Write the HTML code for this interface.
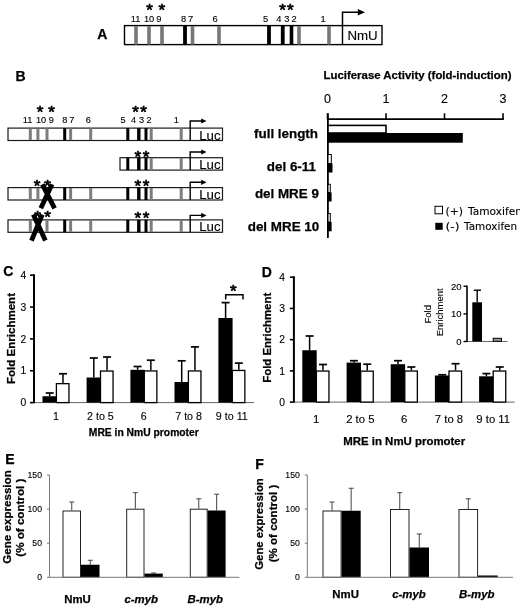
<!DOCTYPE html>
<html><head><meta charset="utf-8"><title>Figure</title>
<style>html,body{margin:0;padding:0;background:#fff}svg{display:block}text{font-family:"Liberation Sans",Arial,sans-serif;fill:#000}.b{font-weight:bold;stroke:#000;stroke-width:.25px}.v{font-family:"DejaVu Sans",Verdana,sans-serif;stroke:#000;stroke-width:.12px}.st{stroke:#000;stroke-width:.7px}.n{stroke:#000;stroke-width:.12px}</style></head><body>
<svg width="520" height="611" viewBox="0 0 520 611">
<rect width="520" height="611" fill="#fff"/>
<g id="panelA">
<text x="97.2" y="39.4" font-size="14" class="b">A</text>
<rect x="124.5" y="25.6" width="257.5" height="19" fill="#fff" stroke="#000" stroke-width="1.4"/>
<rect x="134.2" y="26" width="3.6" height="18.5" fill="#777"/>
<rect x="147.2" y="26" width="3.6" height="18.5" fill="#777"/>
<rect x="160.2" y="26" width="3.6" height="18.5" fill="#777"/>
<rect x="190.7" y="26" width="3.6" height="18.5" fill="#777"/>
<rect x="217.2" y="26" width="3.6" height="18.5" fill="#777"/>
<rect x="297.2" y="26" width="3.6" height="18.5" fill="#777"/>
<rect x="327.2" y="26" width="3.6" height="18.5" fill="#777"/>
<rect x="183.1" y="26" width="3.8" height="18.5" fill="#000"/>
<rect x="267.1" y="26" width="3.8" height="18.5" fill="#000"/>
<rect x="280.85" y="26" width="3.8" height="18.5" fill="#000"/>
<rect x="289.7" y="26" width="3.6" height="18.5" fill="#000"/>
<line x1="342.5" y1="25.5" x2="342.5" y2="45" stroke="#000" stroke-width="1.4"/>
<text x="347.4" y="40" font-size="13.3" class="n">NmU</text>
<path d="M342.5 25.5V12.3H359" fill="none" stroke="#000" stroke-width="1.5"/>
<path d="M357.8 9.1L365 12.3L357.8 15.5Z" fill="#000"/>
<text x="135.6" y="22.3" font-size="9.3" class="n" text-anchor="middle">11</text>
<text x="149.1" y="22.3" font-size="9.3" class="n" text-anchor="middle">10</text>
<text x="158.8" y="22.3" font-size="9.3" class="n" text-anchor="middle">9</text>
<text x="183.7" y="22.3" font-size="9.3" class="n" text-anchor="middle">8</text>
<text x="190.6" y="22.3" font-size="9.3" class="n" text-anchor="middle">7</text>
<text x="215.2" y="22.3" font-size="9.3" class="n" text-anchor="middle">6</text>
<text x="265.5" y="22.3" font-size="9.3" class="n" text-anchor="middle">5</text>
<text x="278.75" y="22.3" font-size="9.3" class="n" text-anchor="middle">4</text>
<text x="286.75" y="22.3" font-size="9.3" class="n" text-anchor="middle">3</text>
<text x="294" y="22.3" font-size="9.3" class="n" text-anchor="middle">2</text>
<text x="323" y="22.3" font-size="9.3" class="n" text-anchor="middle">1</text>
<text x="149.5" y="15.6" font-size="17" class="st" text-anchor="middle">*</text>
<text x="161.7" y="15.6" font-size="17" class="st" text-anchor="middle">*</text>
<text x="282.5" y="15.6" font-size="17" class="st" text-anchor="middle">*</text>
<text x="290.3" y="15.6" font-size="17" class="st" text-anchor="middle">*</text>
</g>
<g id="panelB">
<text x="15.5" y="81.2" font-size="14" class="b">B</text>
<rect x="8" y="128.1" width="214.5" height="12.4" fill="#fff" stroke="#1a1a1a" stroke-width="1.2"/>
<rect x="28.8" y="128.5" width="3" height="11.6" fill="#7e7e7e"/>
<rect x="36.4" y="128.5" width="3" height="11.6" fill="#7e7e7e"/>
<rect x="45.5" y="128.5" width="3" height="11.6" fill="#7e7e7e"/>
<rect x="69.1" y="128.5" width="3" height="11.6" fill="#7e7e7e"/>
<rect x="89.2" y="128.5" width="3" height="11.6" fill="#7e7e7e"/>
<rect x="63.2" y="128.1" width="3" height="12.4" fill="#000"/>
<rect x="126.3" y="128.1" width="3" height="12.4" fill="#000"/>
<rect x="137.1" y="128.1" width="3.4" height="12.4" fill="#000"/>
<rect x="144.5" y="128.1" width="3" height="12.4" fill="#000"/>
<rect x="149.7" y="128.5" width="3" height="11.6" fill="#7e7e7e"/>
<rect x="179.7" y="128.5" width="3" height="11.6" fill="#7e7e7e"/>
<path d="M190.2 140.5V121H203" fill="none" stroke="#000" stroke-width="1.4"/>
<path d="M201.2 118.4L206.6 121L201.2 123.6Z" fill="#000"/>
<text x="199.2" y="139.5" font-size="13" class="n" textLength="21.3" lengthAdjust="spacingAndGlyphs">Luc</text>
<rect x="120" y="157.7" width="102.5" height="12.4" fill="#fff" stroke="#1a1a1a" stroke-width="1.2"/>
<rect x="126.3" y="157.7" width="3" height="12.4" fill="#000"/>
<rect x="137.1" y="157.7" width="3.4" height="12.4" fill="#000"/>
<rect x="144.5" y="157.7" width="3" height="12.4" fill="#000"/>
<rect x="149.7" y="158.1" width="3" height="11.6" fill="#7e7e7e"/>
<rect x="179.7" y="158.1" width="3" height="11.6" fill="#7e7e7e"/>
<path d="M190.2 170.1V152H203" fill="none" stroke="#000" stroke-width="1.4"/>
<path d="M201.2 149.4L206.6 152L201.2 154.6Z" fill="#000"/>
<text x="199.2" y="169.1" font-size="13" class="n" textLength="21.3" lengthAdjust="spacingAndGlyphs">Luc</text>
<rect x="8" y="187.6" width="214.5" height="12.4" fill="#fff" stroke="#1a1a1a" stroke-width="1.2"/>
<rect x="28.8" y="188" width="3" height="11.6" fill="#7e7e7e"/>
<rect x="36.4" y="188" width="3" height="11.6" fill="#7e7e7e"/>
<rect x="45.5" y="188" width="3" height="11.6" fill="#7e7e7e"/>
<rect x="69.1" y="188" width="3" height="11.6" fill="#7e7e7e"/>
<rect x="89.2" y="188" width="3" height="11.6" fill="#7e7e7e"/>
<rect x="63.2" y="187.6" width="3" height="12.4" fill="#000"/>
<rect x="126.3" y="187.6" width="3" height="12.4" fill="#000"/>
<rect x="137.1" y="187.6" width="3.4" height="12.4" fill="#000"/>
<rect x="144.5" y="187.6" width="3" height="12.4" fill="#000"/>
<rect x="149.7" y="188" width="3" height="11.6" fill="#7e7e7e"/>
<rect x="179.7" y="188" width="3" height="11.6" fill="#7e7e7e"/>
<path d="M190.2 200V182.3H203" fill="none" stroke="#000" stroke-width="1.4"/>
<path d="M201.2 179.7L206.6 182.3L201.2 184.9Z" fill="#000"/>
<text x="199.2" y="199" font-size="13" class="n" textLength="21.3" lengthAdjust="spacingAndGlyphs">Luc</text>
<rect x="8" y="219.9" width="214.5" height="12.4" fill="#fff" stroke="#1a1a1a" stroke-width="1.2"/>
<rect x="28.8" y="220.3" width="3" height="11.6" fill="#7e7e7e"/>
<rect x="36.4" y="220.3" width="3" height="11.6" fill="#7e7e7e"/>
<rect x="45.5" y="220.3" width="3" height="11.6" fill="#7e7e7e"/>
<rect x="69.1" y="220.3" width="3" height="11.6" fill="#7e7e7e"/>
<rect x="89.2" y="220.3" width="3" height="11.6" fill="#7e7e7e"/>
<rect x="63.2" y="219.9" width="3" height="12.4" fill="#000"/>
<rect x="126.3" y="219.9" width="3" height="12.4" fill="#000"/>
<rect x="137.1" y="219.9" width="3.4" height="12.4" fill="#000"/>
<rect x="144.5" y="219.9" width="3" height="12.4" fill="#000"/>
<rect x="149.7" y="220.3" width="3" height="11.6" fill="#7e7e7e"/>
<rect x="179.7" y="220.3" width="3" height="11.6" fill="#7e7e7e"/>
<path d="M190.2 232.3V215.4H203" fill="none" stroke="#000" stroke-width="1.4"/>
<path d="M201.2 212.8L206.6 215.4L201.2 218Z" fill="#000"/>
<text x="199.2" y="231.3" font-size="13" class="n" textLength="21.3" lengthAdjust="spacingAndGlyphs">Luc</text>
<text x="27.6" y="123.2" font-size="9.2" class="n" text-anchor="middle">11</text>
<text x="41" y="123.2" font-size="9.2" class="n" text-anchor="middle">10</text>
<text x="51.3" y="123.2" font-size="9.2" class="n" text-anchor="middle">9</text>
<text x="64.7" y="123.2" font-size="9.2" class="n" text-anchor="middle">8</text>
<text x="71.7" y="123.2" font-size="9.2" class="n" text-anchor="middle">7</text>
<text x="88.3" y="123.2" font-size="9.2" class="n" text-anchor="middle">6</text>
<text x="123" y="123.2" font-size="9.2" class="n" text-anchor="middle">5</text>
<text x="133.6" y="123.2" font-size="9.2" class="n" text-anchor="middle">4</text>
<text x="141.6" y="123.2" font-size="9.2" class="n" text-anchor="middle">3</text>
<text x="149" y="123.2" font-size="9.2" class="n" text-anchor="middle">2</text>
<text x="176.4" y="123.2" font-size="9.2" class="n" text-anchor="middle">1</text>
<text x="40" y="118.3" font-size="17" class="st" text-anchor="middle">*</text>
<text x="51.5" y="118.3" font-size="17" class="st" text-anchor="middle">*</text>
<text x="135.6" y="117.7" font-size="17" class="st" text-anchor="middle">*</text>
<text x="143.6" y="117.7" font-size="17" class="st" text-anchor="middle">*</text>
<text x="137.8" y="162.8" font-size="17" class="st" text-anchor="middle">*</text>
<text x="146" y="162.8" font-size="17" class="st" text-anchor="middle">*</text>
<text x="37" y="191.8" font-size="17" class="st" text-anchor="middle">*</text>
<text x="47.5" y="191.8" font-size="17" class="st" text-anchor="middle">*</text>
<text x="137.8" y="192.4" font-size="17" class="st" text-anchor="middle">*</text>
<text x="146" y="192.4" font-size="17" class="st" text-anchor="middle">*</text>
<text x="37.5" y="223.2" font-size="17" class="st" text-anchor="middle">*</text>
<text x="47.5" y="223.2" font-size="17" class="st" text-anchor="middle">*</text>
<text x="137.8" y="223.6" font-size="17" class="st" text-anchor="middle">*</text>
<text x="146" y="223.6" font-size="17" class="st" text-anchor="middle">*</text>
<path d="M42.3 184.3L54.6 208.3M52 184.3L40.8 208.3" stroke="#000" stroke-width="4.8" fill="none"/>
<path d="M33.3 214.5L45.4 240.6M42.2 214.5L31.5 240.6" stroke="#000" stroke-width="4.8" fill="none"/>
<text x="417.5" y="79" font-size="11.4" class="b" text-anchor="middle" textLength="188" lengthAdjust="spacingAndGlyphs">Luciferase Activity (fold-induction)</text>
<text x="327.5" y="103.3" font-size="12.5" class="n" text-anchor="middle">0</text>
<line x1="327.5" y1="113.3" x2="327.5" y2="119.3" stroke="#000" stroke-width="1.6"/>
<text x="386" y="103.3" font-size="12.5" class="n" text-anchor="middle">1</text>
<line x1="386" y1="113.3" x2="386" y2="119.3" stroke="#000" stroke-width="1.6"/>
<text x="444.5" y="103.3" font-size="12.5" class="n" text-anchor="middle">2</text>
<line x1="444.5" y1="113.3" x2="444.5" y2="119.3" stroke="#000" stroke-width="1.6"/>
<text x="503" y="103.3" font-size="12.5" class="n" text-anchor="middle">3</text>
<line x1="503" y1="113.3" x2="503" y2="119.3" stroke="#000" stroke-width="1.6"/>
<line x1="327" y1="119.2" x2="503.8" y2="119.2" stroke="#000" stroke-width="1.7"/>
<line x1="327.9" y1="113.3" x2="327.9" y2="238" stroke="#000" stroke-width="1.8"/>
<rect x="328" y="125.4" width="58" height="7.6" fill="#fff" stroke="#000" stroke-width="1.6"/>
<rect x="328" y="133" width="134.8" height="9.7" fill="#000"/>
<rect x="328" y="154.5" width="3.3" height="9" fill="#fff" stroke="#000" stroke-width="1"/>
<rect x="328" y="163.5" width="4.5" height="9" fill="#000"/>
<rect x="328" y="184.3" width="2.3" height="8.2" fill="#fff" stroke="#000" stroke-width="1"/>
<rect x="328" y="192.5" width="3.6" height="9" fill="#000"/>
<rect x="328" y="213.5" width="2.3" height="8.5" fill="#fff" stroke="#000" stroke-width="1"/>
<rect x="328" y="222" width="3.6" height="9.3" fill="#000"/>
<text x="318" y="138.2" font-size="13.4" class="b" text-anchor="end">full length</text>
<text x="316" y="170.5" font-size="13.4" class="b" text-anchor="end">del 6-11</text>
<text x="318.9" y="198.2" font-size="13.4" class="b" text-anchor="end">del MRE 9</text>
<text x="319.2" y="230.5" font-size="13.4" class="b" text-anchor="end">del MRE 10</text>
<rect x="435" y="206.3" width="7.5" height="7.5" fill="#fff" stroke="#000" stroke-width="1"/>
<rect x="435.3" y="222.8" width="7.4" height="7" fill="#000"/>
<text x="445.5" y="215" font-size="10.7" class="v" textLength="17.6" lengthAdjust="spacingAndGlyphs">(+)</text>
<text x="468" y="215" font-size="10.7" class="v" textLength="54" lengthAdjust="spacingAndGlyphs">Tamoxifen</text>
<text x="445.5" y="229.7" font-size="10.7" class="v" textLength="14" lengthAdjust="spacingAndGlyphs">(-)</text>
<text x="464.1" y="229.7" font-size="10.7" class="v" textLength="53" lengthAdjust="spacingAndGlyphs">Tamoxifen</text>
</g>
<g id="panelC">
<text x="3.3" y="275.8" font-size="14" class="b">C</text>
<line x1="34" y1="402.6" x2="254" y2="402.6" stroke="#666" stroke-width="1"/>
<line x1="49.7" y1="396.25" x2="49.7" y2="393" stroke="#000" stroke-width="1.5"/>
<line x1="45.7" y1="393" x2="53.7" y2="393" stroke="#000" stroke-width="1.7"/>
<rect x="42.5" y="396.25" width="14.2" height="6.35" fill="#000"/>
<line x1="62.95" y1="383" x2="62.95" y2="373.75" stroke="#000" stroke-width="1.5"/>
<line x1="58.95" y1="373.75" x2="66.95" y2="373.75" stroke="#000" stroke-width="1.7"/>
<rect x="56.4" y="383.65" width="12.55" height="18.95" fill="#fff" stroke="#000" stroke-width="1.3"/>
<line x1="93.8" y1="377.5" x2="93.8" y2="358" stroke="#000" stroke-width="1.5"/>
<line x1="89.8" y1="358" x2="97.8" y2="358" stroke="#000" stroke-width="1.7"/>
<rect x="86.6" y="377.5" width="14.2" height="25.1" fill="#000"/>
<line x1="107.05" y1="370.4" x2="107.05" y2="357" stroke="#000" stroke-width="1.5"/>
<line x1="103.05" y1="357" x2="111.05" y2="357" stroke="#000" stroke-width="1.7"/>
<rect x="100.5" y="371.05" width="12.55" height="31.55" fill="#fff" stroke="#000" stroke-width="1.3"/>
<line x1="137.6" y1="369.8" x2="137.6" y2="366.5" stroke="#000" stroke-width="1.5"/>
<line x1="133.6" y1="366.5" x2="141.6" y2="366.5" stroke="#000" stroke-width="1.7"/>
<rect x="130.4" y="369.8" width="14.2" height="32.8" fill="#000"/>
<line x1="150.85" y1="370.3" x2="150.85" y2="360.2" stroke="#000" stroke-width="1.5"/>
<line x1="146.85" y1="360.2" x2="154.85" y2="360.2" stroke="#000" stroke-width="1.7"/>
<rect x="144.3" y="370.95" width="12.55" height="31.65" fill="#fff" stroke="#000" stroke-width="1.3"/>
<line x1="181.7" y1="382" x2="181.7" y2="360.8" stroke="#000" stroke-width="1.5"/>
<line x1="177.7" y1="360.8" x2="185.7" y2="360.8" stroke="#000" stroke-width="1.7"/>
<rect x="174.5" y="382" width="14.2" height="20.6" fill="#000"/>
<line x1="194.95" y1="370.3" x2="194.95" y2="346.9" stroke="#000" stroke-width="1.5"/>
<line x1="190.95" y1="346.9" x2="198.95" y2="346.9" stroke="#000" stroke-width="1.7"/>
<rect x="188.4" y="370.95" width="12.55" height="31.65" fill="#fff" stroke="#000" stroke-width="1.3"/>
<line x1="225.6" y1="318" x2="225.6" y2="302.6" stroke="#000" stroke-width="1.5"/>
<line x1="221.6" y1="302.6" x2="229.6" y2="302.6" stroke="#000" stroke-width="1.7"/>
<rect x="218.4" y="318" width="14.2" height="84.6" fill="#000"/>
<line x1="238.85" y1="369.8" x2="238.85" y2="363.1" stroke="#000" stroke-width="1.5"/>
<line x1="234.85" y1="363.1" x2="242.85" y2="363.1" stroke="#000" stroke-width="1.7"/>
<rect x="232.3" y="370.45" width="12.55" height="32.15" fill="#fff" stroke="#000" stroke-width="1.3"/>
<line x1="34" y1="274.3" x2="34" y2="403.2" stroke="#000" stroke-width="2"/>
<line x1="30" y1="402.6" x2="34" y2="402.6" stroke="#000" stroke-width="1.6"/>
<text x="26.2" y="406.3" font-size="10.3" class="n" text-anchor="end">0</text>
<line x1="30" y1="370.75" x2="34" y2="370.75" stroke="#000" stroke-width="1.6"/>
<text x="26.2" y="374.45" font-size="10.3" class="n" text-anchor="end">1</text>
<line x1="30" y1="338.9" x2="34" y2="338.9" stroke="#000" stroke-width="1.6"/>
<text x="26.2" y="342.6" font-size="10.3" class="n" text-anchor="end">2</text>
<line x1="30" y1="307.05" x2="34" y2="307.05" stroke="#000" stroke-width="1.6"/>
<text x="26.2" y="310.75" font-size="10.3" class="n" text-anchor="end">3</text>
<line x1="30" y1="275.2" x2="34" y2="275.2" stroke="#000" stroke-width="1.6"/>
<text x="26.2" y="278.9" font-size="10.3" class="n" text-anchor="end">4</text>
<text x="56" y="420.3" font-size="10.7" class="n" text-anchor="middle">1</text>
<text x="100.4" y="420.3" font-size="10.7" class="n" text-anchor="middle">2 to 5</text>
<text x="143.7" y="420.3" font-size="10.7" class="n" text-anchor="middle">6</text>
<text x="188.6" y="420.3" font-size="10.7" class="n" text-anchor="middle">7 to 8</text>
<text x="231.8" y="420.3" font-size="10.7" class="n" text-anchor="middle">9 to 11</text>
<text x="143.8" y="435.6" font-size="10.5" class="b" text-anchor="middle" textLength="110" lengthAdjust="spacingAndGlyphs">MRE in NmU promoter</text>
<text transform="translate(14.5,338.5) rotate(-90)" font-size="11" class="b" text-anchor="middle" textLength="91" lengthAdjust="spacingAndGlyphs">Fold Enrichment</text>
</g>
<path d="M225.7 299.5V294.7H243V299.5" fill="none" stroke="#000" stroke-width="1.5"/>
<text x="233.4" y="297" font-size="17" class="st" text-anchor="middle">*</text>
<g id="panelD">
<text x="261.7" y="276.5" font-size="14" class="b">D</text>
<line x1="293.9" y1="402.1" x2="514.6" y2="402.1" stroke="#666" stroke-width="1"/>
<line x1="309.6" y1="350.25" x2="309.6" y2="336" stroke="#000" stroke-width="1.5"/>
<line x1="305.6" y1="336" x2="313.6" y2="336" stroke="#000" stroke-width="1.7"/>
<rect x="302.3" y="350.25" width="14.4" height="51.85" fill="#000"/>
<line x1="322.95" y1="370.4" x2="322.95" y2="364.5" stroke="#000" stroke-width="1.5"/>
<line x1="318.95" y1="364.5" x2="326.95" y2="364.5" stroke="#000" stroke-width="1.7"/>
<rect x="316.4" y="371.05" width="12.55" height="31.05" fill="#fff" stroke="#000" stroke-width="1.3"/>
<line x1="353.9" y1="362.6" x2="353.9" y2="360.7" stroke="#000" stroke-width="1.5"/>
<line x1="349.9" y1="360.7" x2="357.9" y2="360.7" stroke="#000" stroke-width="1.7"/>
<rect x="346.6" y="362.6" width="14.4" height="39.5" fill="#000"/>
<line x1="367.25" y1="370.5" x2="367.25" y2="364.2" stroke="#000" stroke-width="1.5"/>
<line x1="363.25" y1="364.2" x2="371.25" y2="364.2" stroke="#000" stroke-width="1.7"/>
<rect x="360.7" y="371.15" width="12.55" height="30.95" fill="#fff" stroke="#000" stroke-width="1.3"/>
<line x1="398" y1="364.2" x2="398" y2="360.7" stroke="#000" stroke-width="1.5"/>
<line x1="394" y1="360.7" x2="402" y2="360.7" stroke="#000" stroke-width="1.7"/>
<rect x="390.7" y="364.2" width="14.4" height="37.9" fill="#000"/>
<line x1="411.35" y1="370.4" x2="411.35" y2="367" stroke="#000" stroke-width="1.5"/>
<line x1="407.35" y1="367" x2="415.35" y2="367" stroke="#000" stroke-width="1.7"/>
<rect x="404.8" y="371.05" width="12.55" height="31.05" fill="#fff" stroke="#000" stroke-width="1.3"/>
<line x1="442.2" y1="375.5" x2="442.2" y2="374.8" stroke="#000" stroke-width="1.5"/>
<line x1="438.2" y1="374.8" x2="446.2" y2="374.8" stroke="#000" stroke-width="1.7"/>
<rect x="434.9" y="375.5" width="14.4" height="26.6" fill="#000"/>
<line x1="455.55" y1="370.4" x2="455.55" y2="363.7" stroke="#000" stroke-width="1.5"/>
<line x1="451.55" y1="363.7" x2="459.55" y2="363.7" stroke="#000" stroke-width="1.7"/>
<rect x="449" y="371.05" width="12.55" height="31.05" fill="#fff" stroke="#000" stroke-width="1.3"/>
<line x1="486.4" y1="376.3" x2="486.4" y2="373.6" stroke="#000" stroke-width="1.5"/>
<line x1="482.4" y1="373.6" x2="490.4" y2="373.6" stroke="#000" stroke-width="1.7"/>
<rect x="479.1" y="376.3" width="14.4" height="25.8" fill="#000"/>
<line x1="499.75" y1="370.4" x2="499.75" y2="367" stroke="#000" stroke-width="1.5"/>
<line x1="495.75" y1="367" x2="503.75" y2="367" stroke="#000" stroke-width="1.7"/>
<rect x="493.2" y="371.05" width="12.55" height="31.05" fill="#fff" stroke="#000" stroke-width="1.3"/>
<line x1="293.9" y1="276.3" x2="293.9" y2="402.7" stroke="#000" stroke-width="2"/>
<line x1="289.9" y1="402.1" x2="293.9" y2="402.1" stroke="#000" stroke-width="1.6"/>
<text x="285.1" y="405.8" font-size="10.3" class="n" text-anchor="end">0</text>
<line x1="289.9" y1="370.88" x2="293.9" y2="370.88" stroke="#000" stroke-width="1.6"/>
<text x="285.1" y="374.57" font-size="10.3" class="n" text-anchor="end">1</text>
<line x1="289.9" y1="339.65" x2="293.9" y2="339.65" stroke="#000" stroke-width="1.6"/>
<text x="285.1" y="343.35" font-size="10.3" class="n" text-anchor="end">2</text>
<line x1="289.9" y1="308.43" x2="293.9" y2="308.43" stroke="#000" stroke-width="1.6"/>
<text x="285.1" y="312.12" font-size="10.3" class="n" text-anchor="end">3</text>
<line x1="289.9" y1="277.2" x2="293.9" y2="277.2" stroke="#000" stroke-width="1.6"/>
<text x="285.1" y="280.9" font-size="10.3" class="n" text-anchor="end">4</text>
<text x="316.25" y="422.6" font-size="11.3" class="n" text-anchor="middle">1</text>
<text x="360.3" y="422.6" font-size="11.3" class="n" text-anchor="middle">2 to 5</text>
<text x="404.2" y="422.6" font-size="11.3" class="n" text-anchor="middle">6</text>
<text x="449" y="422.6" font-size="11.3" class="n" text-anchor="middle">7 to 8</text>
<text x="493.2" y="422.6" font-size="11.3" class="n" text-anchor="middle">9 to 11</text>
<text x="404.2" y="445" font-size="11.5" class="b" text-anchor="middle" textLength="122" lengthAdjust="spacingAndGlyphs">MRE in NmU promoter</text>
<text transform="translate(271.4,337.8) rotate(-90)" font-size="11" class="b" text-anchor="middle" textLength="90" lengthAdjust="spacingAndGlyphs">Fold Enrichment</text>
</g>
<g id="inset">
<line x1="467" y1="341.5" x2="507.5" y2="341.5" stroke="#666" stroke-width="1"/>
<line x1="477.2" y1="302.3" x2="477.2" y2="290.2" stroke="#000" stroke-width="1.4"/>
<line x1="473.8" y1="290.2" x2="481" y2="290.2" stroke="#000" stroke-width="1.4"/>
<rect x="472.3" y="302.3" width="9.7" height="39.2" fill="#000"/>
<rect x="493.2" y="338.3" width="8.3" height="3" fill="#999" stroke="#000" stroke-width="1"/>
<line x1="467" y1="285.6" x2="467" y2="342" stroke="#000" stroke-width="1.6"/>
<line x1="463.5" y1="286.3" x2="467" y2="286.3" stroke="#000" stroke-width="1.4"/>
<text x="461.5" y="289.7" font-size="9.5" class="n" text-anchor="end">20</text>
<line x1="463.5" y1="313.9" x2="467" y2="313.9" stroke="#000" stroke-width="1.4"/>
<text x="461.5" y="317.3" font-size="9.5" class="n" text-anchor="end">10</text>
<line x1="463.5" y1="341.5" x2="467" y2="341.5" stroke="#000" stroke-width="1.4"/>
<text x="461.5" y="344.9" font-size="9.5" class="n" text-anchor="end">0</text>
<text transform="translate(431.2,314.3) rotate(-90)" font-size="9.5" class="n" text-anchor="middle">Fold</text>
<text transform="translate(443.2,312.3) rotate(-90)" font-size="9.5" class="n" text-anchor="middle">Enrichment</text>
</g>
<g id="panelE">
<text x="5.3" y="464.2" font-size="14" class="b">E</text>
<line x1="71.75" y1="510.5" x2="71.75" y2="502" stroke="#444" stroke-width="1"/>
<line x1="69.25" y1="502" x2="74.25" y2="502" stroke="#444" stroke-width="1"/>
<rect x="63" y="511" width="17.5" height="66.3" fill="#fff" stroke="#222" stroke-width="1"/>
<line x1="90.25" y1="564.75" x2="90.25" y2="560.25" stroke="#444" stroke-width="1"/>
<line x1="87.75" y1="560.25" x2="92.75" y2="560.25" stroke="#444" stroke-width="1"/>
<rect x="81" y="564.75" width="18.5" height="12.55" fill="#000"/>
<line x1="135.35" y1="508.7" x2="135.35" y2="492.7" stroke="#444" stroke-width="1"/>
<line x1="132.85" y1="492.7" x2="137.85" y2="492.7" stroke="#444" stroke-width="1"/>
<rect x="126.7" y="509.2" width="17.3" height="68.1" fill="#fff" stroke="#222" stroke-width="1"/>
<line x1="153.65" y1="573.6" x2="153.65" y2="573" stroke="#444" stroke-width="1"/>
<line x1="151.15" y1="573" x2="156.15" y2="573" stroke="#444" stroke-width="1"/>
<rect x="144.5" y="573.6" width="18.3" height="3.7" fill="#000"/>
<line x1="198.75" y1="508.7" x2="198.75" y2="498.8" stroke="#444" stroke-width="1"/>
<line x1="196.25" y1="498.8" x2="201.25" y2="498.8" stroke="#444" stroke-width="1"/>
<rect x="190.3" y="509.2" width="16.9" height="68.1" fill="#fff" stroke="#222" stroke-width="1"/>
<line x1="216.65" y1="510.5" x2="216.65" y2="494.2" stroke="#444" stroke-width="1"/>
<line x1="214.15" y1="494.2" x2="219.15" y2="494.2" stroke="#444" stroke-width="1"/>
<rect x="207.7" y="510.5" width="17.9" height="66.8" fill="#000"/>
<line x1="49.5" y1="577.3" x2="239.4" y2="577.3" stroke="#777" stroke-width="1"/>
<line x1="49.5" y1="475" x2="49.5" y2="577.3" stroke="#777" stroke-width="1"/>
<line x1="47" y1="577.3" x2="49.5" y2="577.3" stroke="#777" stroke-width="1"/>
<text x="42" y="580.1" font-size="8.7" class="n" text-anchor="end">0</text>
<line x1="47" y1="543.2" x2="49.5" y2="543.2" stroke="#777" stroke-width="1"/>
<text x="42" y="546" font-size="8.7" class="n" text-anchor="end">50</text>
<line x1="47" y1="509.1" x2="49.5" y2="509.1" stroke="#777" stroke-width="1"/>
<text x="42" y="511.9" font-size="8.7" class="n" text-anchor="end">100</text>
<line x1="47" y1="475" x2="49.5" y2="475" stroke="#777" stroke-width="1"/>
<text x="42" y="477.8" font-size="8.7" class="n" text-anchor="end">150</text>
<text x="77.5" y="602.8" font-size="11.4" class="b" text-anchor="middle">NmU</text>
<text x="141.2" y="602.8" font-size="11.4" class="b" text-anchor="middle" font-style="italic">c-myb</text>
<text x="205.3" y="602.8" font-size="11.4" class="b" text-anchor="middle" font-style="italic">B-myb</text>
<text transform="translate(10.5,517) rotate(-90)" font-size="10.8" class="b" text-anchor="middle" textLength="93.5" lengthAdjust="spacingAndGlyphs">Gene expression</text>
<text transform="translate(24.1,517.7) rotate(-90)" font-size="10.8" class="b" text-anchor="middle" textLength="78" lengthAdjust="spacingAndGlyphs">(% of control )</text>
</g>
<g id="panelF">
<text x="255.3" y="469" font-size="14" class="b">F</text>
<line x1="332.05" y1="510.5" x2="332.05" y2="502" stroke="#444" stroke-width="1"/>
<line x1="329.55" y1="502" x2="334.55" y2="502" stroke="#444" stroke-width="1"/>
<rect x="323" y="511" width="18.1" height="66.3" fill="#fff" stroke="#222" stroke-width="1"/>
<line x1="351.15" y1="510.75" x2="351.15" y2="488.25" stroke="#444" stroke-width="1"/>
<line x1="348.65" y1="488.25" x2="353.65" y2="488.25" stroke="#444" stroke-width="1"/>
<rect x="341.6" y="510.75" width="19.1" height="66.55" fill="#000"/>
<line x1="399.75" y1="509" x2="399.75" y2="492.7" stroke="#444" stroke-width="1"/>
<line x1="397.25" y1="492.7" x2="402.25" y2="492.7" stroke="#444" stroke-width="1"/>
<rect x="390.5" y="509.5" width="18.5" height="67.8" fill="#fff" stroke="#222" stroke-width="1"/>
<line x1="419.25" y1="547.5" x2="419.25" y2="534" stroke="#444" stroke-width="1"/>
<line x1="416.75" y1="534" x2="421.75" y2="534" stroke="#444" stroke-width="1"/>
<rect x="409.5" y="547.5" width="19.5" height="29.8" fill="#000"/>
<line x1="468.3" y1="509" x2="468.3" y2="498.8" stroke="#444" stroke-width="1"/>
<line x1="465.8" y1="498.8" x2="470.8" y2="498.8" stroke="#444" stroke-width="1"/>
<rect x="459" y="509.5" width="18.6" height="67.8" fill="#fff" stroke="#222" stroke-width="1"/>
<rect x="478.1" y="575.5" width="19.6" height="1.8" fill="#000"/>
<line x1="307.3" y1="577.3" x2="513" y2="577.3" stroke="#777" stroke-width="1"/>
<line x1="307.3" y1="475" x2="307.3" y2="577.3" stroke="#777" stroke-width="1"/>
<line x1="304.8" y1="577.3" x2="307.3" y2="577.3" stroke="#777" stroke-width="1"/>
<text x="299.8" y="580.1" font-size="8.7" class="n" text-anchor="end">0</text>
<line x1="304.8" y1="543.2" x2="307.3" y2="543.2" stroke="#777" stroke-width="1"/>
<text x="299.8" y="546" font-size="8.7" class="n" text-anchor="end">50</text>
<line x1="304.8" y1="509.1" x2="307.3" y2="509.1" stroke="#777" stroke-width="1"/>
<text x="299.8" y="511.9" font-size="8.7" class="n" text-anchor="end">100</text>
<line x1="304.8" y1="475" x2="307.3" y2="475" stroke="#777" stroke-width="1"/>
<text x="299.8" y="477.8" font-size="8.7" class="n" text-anchor="end">150</text>
<text x="345.6" y="598" font-size="11.4" class="b" text-anchor="middle">NmU</text>
<text x="409" y="598" font-size="11.4" class="b" text-anchor="middle" font-style="italic">c-myb</text>
<text x="476.8" y="598" font-size="11.4" class="b" text-anchor="middle" font-style="italic">B-myb</text>
<text transform="translate(262.8,524) rotate(-90)" font-size="10.8" class="b" text-anchor="middle" textLength="91.5" lengthAdjust="spacingAndGlyphs">Gene expression</text>
<text transform="translate(276.8,523.5) rotate(-90)" font-size="10.8" class="b" text-anchor="middle" textLength="77.5" lengthAdjust="spacingAndGlyphs">(% of control )</text>
</g>
</svg></body></html>
